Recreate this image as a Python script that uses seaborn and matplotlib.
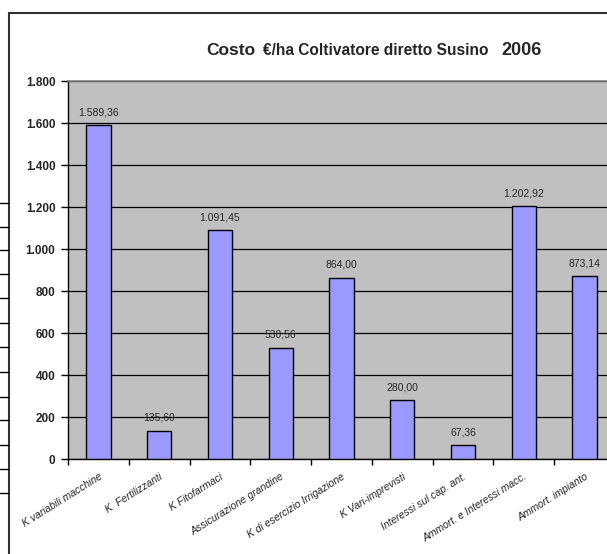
import matplotlib
matplotlib.use("Agg")
import matplotlib.pyplot as plt
import seaborn as sns
import pandas as pd
from matplotlib.lines import Line2D
from matplotlib.ticker import FuncFormatter

categories = ["K variabili macchine", "K  Fertilizzanti", "K Fitofarmaci",
              "Assicurazione grandine", "K di esercizio Irrigazione",
              "K Vari-imprevisti", "Interessi sul cap. ant.",
              "Ammort. e Interessi macc.", "Ammort. impianto"]
values = [1589.36, 135.60, 1091.45, 530.56, 864.00, 280.00, 67.36, 1202.92, 873.14]
value_labels = ["1.589,36", "135,60", "1.091,45", "530,56", "864,00",
                "280,00", "67,36", "1.202,92", "873,14"]
yticks = [0, 200, 400, 600, 800, 1000, 1200, 1400, 1600, 1800]

sns.set_theme(style="white")
plt.rcParams["font.family"] = ["Liberation Sans", "DejaVu Sans"]

W, H = 607, 554
fig = plt.figure(figsize=(W / 100, H / 100), dpi=100)
fig.patch.set_facecolor("white")

# axes placement (pixels)
left, right, top, bottom = 68, 615, 81, 459
ax = fig.add_axes([left / W, 1 - bottom / H, (right - left) / W, (bottom - top) / H])
ax.set_facecolor("#C0C0C0")

df = pd.DataFrame({"cat": categories, "val": values})
sns.barplot(data=df, x="cat", y="val", color="#9999FF", edgecolor="black",
            linewidth=1.0, width=0.4, saturation=1, ax=ax, zorder=3)

ax.set_xlim(-0.5, len(categories) - 0.5)
ax.set_ylim(0, 1800)
ax.set_yticks(yticks)
ax.yaxis.set_major_formatter(FuncFormatter(lambda v, p: f"{int(v):,}".replace(",", ".")))
ax.grid(axis="y", color="black", linewidth=0.9, zorder=1)
ax.set_axisbelow(True)
ax.set_xlabel("")
ax.set_ylabel("")

for lbl in ax.get_yticklabels():
    lbl.set_fontweight("bold")
    lbl.set_fontsize(8.5)
ax.tick_params(axis="y", which="major", direction="out", length=5, width=1,
               color="black", pad=4, left=True)

# x ticks: labels at centers, tick marks at boundaries
ax.set_xticks(range(len(categories)))
ax.set_xticklabels(categories, rotation=32, ha="right", va="top",
                   rotation_mode="anchor", fontsize=7.5, fontstyle="italic")
ax.tick_params(axis="x", which="major", length=0, pad=9)
ax.set_xticks([i - 0.5 for i in range(len(categories) + 1)], minor=True)
ax.tick_params(axis="x", which="minor", direction="out", length=4, width=1,
               color="black", bottom=True)

for s in ["left", "bottom"]:
    ax.spines[s].set_color("black")
    ax.spines[s].set_linewidth(1.0)
ax.spines["top"].set_color("#808080")
ax.spines["top"].set_linewidth(1.2)
ax.spines["right"].set_visible(False)

for i, (v, t) in enumerate(zip(values, value_labels)):
    ax.annotate(t, (i, v), xytext=(0, 5.5), textcoords="offset points",
                ha="center", va="bottom", fontsize=7.5,
                family=["Liberation Sans Narrow", "Liberation Sans"], zorder=5)

# title with mixed sizes
ty = 1 - 55 / H
fig.text(255 / W, ty, "Costo", fontsize=12.5, fontweight="bold",
         va="baseline", ha="right")
fig.text(263 / W, ty, "€/ha Coltivatore diretto Susino", fontsize=11.2,
         fontweight="bold", va="baseline", ha="left")
fig.text(542 / W, ty, "2006", fontsize=13, fontweight="bold", va="baseline", ha="right")

# chart-area border and spreadsheet remnants
fig.add_artist(Line2D([8.5 / W, 8.5 / W], [0, 1 - 12.5 / H], transform=fig.transFigure,
                      color="#303030", linewidth=1.5))
fig.add_artist(Line2D([8.5 / W, 1], [1 - 12.5 / H, 1 - 12.5 / H], transform=fig.transFigure,
                      color="#303030", linewidth=1.5))
for yy in [203, 227, 250, 274, 298, 323, 347, 372, 397, 420, 445, 469, 493]:
    fig.add_artist(Line2D([0, 8 / W], [1 - yy / H, 1 - yy / H], transform=fig.transFigure,
                          color="black", linewidth=1.0))

fig.savefig("out.png", dpi=100)
